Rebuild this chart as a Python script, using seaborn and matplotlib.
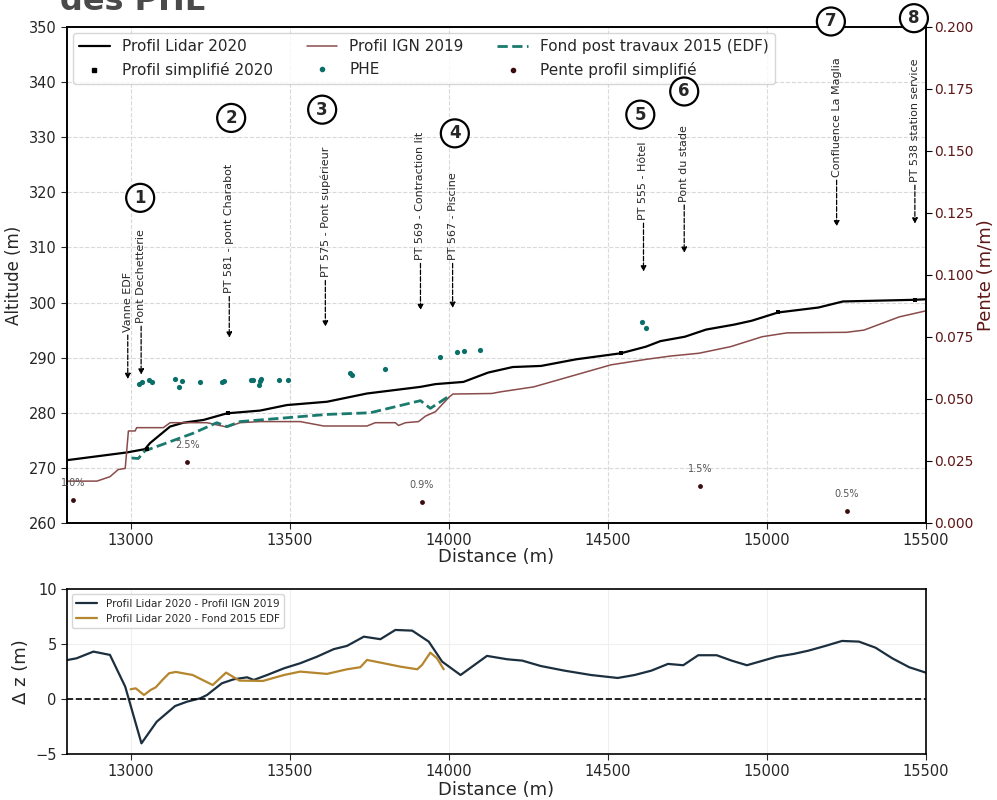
import matplotlib
matplotlib.use('Agg')
import matplotlib.pyplot as plt
from matplotlib.lines import Line2D
import numpy as np
import seaborn as sns

# profil Lidar 2020
lidar_x = [12800, 12988, 13045, 13061, 13124, 13166, 13229, 13303, 13407, 13491, 13617, 13743, 13827, 13911,
           13958, 14046, 14124, 14201, 14290, 14400, 14541, 14620, 14665, 14742, 14809, 14897, 14952, 15035,
           15162, 15239, 15465, 15500]
lidar_z = [271.4, 272.8, 273.4, 274.5, 277.5, 278.2, 278.7, 279.9, 280.4, 281.4, 282.0, 283.5, 284.1, 284.7,
           285.2, 285.6, 287.3, 288.3, 288.5, 289.7, 290.8, 292.0, 293.0, 293.8, 295.1, 296.0, 296.7, 298.2,
           299.1, 300.2, 300.5, 300.6]

# profil simplifie 2020
simp_x = [13050, 13305, 14541, 15035, 15465]
simp_z = [273.4, 279.9, 290.8, 298.2, 300.5]

# profil IGN 2019
ign_x = [12800, 12894, 12935, 12961, 12983, 12993, 13014, 13019, 13103, 13124, 13240, 13303, 13344, 13407,
         13533, 13607, 13743, 13769, 13832, 13842, 13864, 13905, 13927, 13958, 14002, 14013, 14135, 14163,
         14267, 14510, 14621, 14698, 14786, 14886, 14985, 15063, 15250, 15305, 15416, 15500]
ign_z = [267.6, 267.6, 268.4, 269.7, 269.9, 276.7, 276.7, 277.3, 277.3, 278.2, 278.2, 277.4, 278.2, 278.4,
         278.4, 277.6, 277.6, 278.2, 278.2, 277.7, 278.2, 278.4, 279.4, 280.2, 282.9, 283.4, 283.5, 283.8,
         284.7, 288.7, 289.7, 290.3, 290.8, 292.0, 293.8, 294.5, 294.6, 295.0, 297.4, 298.5]

# fond post travaux 2015 (EDF)
edf_x = [13003, 13024, 13045, 13093, 13197, 13271, 13303, 13344, 13512, 13617, 13753, 13911, 13942, 13995]
edf_z = [271.8, 271.7, 273.1, 274.1, 276.3, 278.2, 277.5, 278.4, 279.2, 279.7, 280.0, 282.2, 280.8, 282.8]

# PHE
phe_x = [13027, 13035, 13059, 13067, 13138, 13162, 13152, 13218, 13286, 13292, 13378, 13386, 13407, 13404,
         13411, 13467, 13494, 13688, 13695, 13801, 13971, 14026, 14047, 14097, 14607, 14620]
phe_z = [285.3, 285.5, 286.0, 285.6, 286.1, 285.7, 284.6, 285.5, 285.5, 285.8, 286.0, 286.0, 285.8, 285.0,
         286.1, 286.0, 286.0, 287.2, 286.8, 287.9, 290.2, 291.1, 291.2, 291.4, 296.5, 295.4]

# pente profil simplifie
pente_x = [12818, 13178, 13915, 14790, 15251]
pente_v = [0.0093, 0.0247, 0.0086, 0.0148, 0.0047]
pente_lbl = ['1.0%', '2.5%', '0.9%', '1.5%', '0.5%']

# ouvrages (nom, x, pointe fleche, bas du texte)
ouv_nom = ['Vanne EDF', 'Pont Dechetterie', 'PT 581 - pont Charabot', 'PT 575 - Pont supérieur',
           'PT 569 - Contraction lit', 'PT 567 - Piscine', 'PT 555 - Hôtel', 'Pont du stade',
           'Confluence La Maglia', 'PT 538 station service']
ouv_x = [12991, 13033, 13310, 13612, 13911, 14012, 14612, 14740, 15219, 15465]
ouv_tip = [286.1, 286.9, 293.6, 295.6, 298.6, 299.0, 305.6, 309.0, 313.8, 314.3]
ouv_txt = [294.7, 296.3, 301.7, 304.6, 307.7, 307.7, 315.0, 318.3, 322.8, 321.9]

# numeros
num_lbl = ['1', '2', '3', '4', '5', '6', '7', '8']
num_x = [13030, 13316, 13602, 14019, 14602, 14740, 15201, 15462]
num_z = [319.0, 333.5, 335.0, 330.7, 334.1, 338.3, 351.0, 351.6]

# delta z
dz_ign_x = [12802, 12830, 12883, 12935, 12983, 13034, 13082, 13140, 13177, 13219, 13240, 13287, 13324, 13366,
            13387, 13429, 13482, 13533, 13586, 13638, 13680, 13733, 13785, 13832, 13885, 13937, 13979, 14037,
            14120, 14184, 14231, 14289, 14363, 14447, 14531, 14584, 14637, 14689, 14737, 14784, 14842, 14889,
            14937, 14984, 15031, 15084, 15131, 15184, 15236, 15289, 15341, 15394, 15447, 15500]
dz_ign = [3.56, 3.71, 4.32, 4.02, 1.13, -4.03, -2.06, -0.63, -0.24, 0.07, 0.37, 1.44, 1.80, 1.98,
          1.74, 2.19, 2.80, 3.26, 3.86, 4.54, 4.84, 5.68, 5.45, 6.29, 6.23, 5.23, 3.41, 2.19,
          3.93, 3.62, 3.50, 3.01, 2.59, 2.19, 1.92, 2.19, 2.59, 3.20, 3.08, 3.99, 3.99, 3.50,
          3.08, 3.47, 3.86, 4.11, 4.41, 4.84, 5.29, 5.23, 4.68, 3.71, 2.90, 2.40]
dz_edf_x = [13000, 13016, 13042, 13063, 13079, 13100, 13121, 13142, 13195, 13226, 13258, 13300, 13342, 13416,
            13482, 13533, 13617, 13680, 13722, 13743, 13785, 13848, 13901, 13916, 13942, 13963, 13984]
dz_edf = [0.89, 0.98, 0.37, 0.83, 1.07, 1.74, 2.35, 2.47, 2.19, 1.74, 1.28, 2.41, 1.68, 1.65,
          2.19, 2.50, 2.29, 2.71, 2.90, 3.56, 3.32, 2.95, 2.71, 3.11, 4.23, 3.71, 2.71]

C_IGN = '#8a4b4b'
C_EDF = '#1b7a6e'
C_PHE = '#0b6f69'
C_PENTE = '#3a0c0c'
C_RIGHT = '#5e1717'

sns.set_style('white')
plt.rcParams['font.family'] = ['DejaVu Sans']

fig = plt.figure(figsize=(9.97, 8.0), dpi=100)
ax = fig.add_axes([0.0672, 0.34625, 0.8616, 0.62])
ax2 = ax.twinx()

sns.lineplot(x=lidar_x, y=lidar_z, ax=ax, color='black', lw=1.6, sort=False, estimator=None)
sns.lineplot(x=ign_x, y=ign_z, ax=ax, color=C_IGN, lw=1.1, sort=False, estimator=None)
sns.lineplot(x=edf_x, y=edf_z, ax=ax, color=C_EDF, lw=2, sort=False, estimator=None, linestyle='--')
sns.scatterplot(x=simp_x, y=simp_z, ax=ax, color='black', marker='s', s=12, linewidth=0, zorder=5)
sns.scatterplot(x=phe_x, y=phe_z, ax=ax, color=C_PHE, s=14, linewidth=0, zorder=5)
sns.scatterplot(x=pente_x, y=pente_v, ax=ax2, color=C_PENTE, s=12, linewidth=0)
for xv, yv, lb in zip(pente_x, pente_v, pente_lbl):
    ax2.annotate(lb, (xv, yv), xytext=(0, 10), textcoords='offset points', ha='center',
                 fontsize=7, color='#555555', annotation_clip=False)

ax.set_xlim(12800, 15500)
ax.set_ylim(260, 350)
ax2.set_ylim(0, 0.2)
ax.set_xticks([13000, 13500, 14000, 14500, 15000, 15500])
ax.set_yticks(np.arange(260, 351, 10))
ax2.set_yticks(np.arange(0, 0.201, 0.025))
ax.grid(True, color='#d9d9d9', ls='--', lw=0.8)
ax.tick_params(axis='both', labelsize=10.5, length=4, left=True, bottom=True)
ax2.tick_params(axis='y', labelsize=10, labelcolor=C_RIGHT, color='black', length=4, right=True, pad=2)
ax.set_xlabel('Distance (m)', fontsize=13, labelpad=0)
ax.set_ylabel('Altitude (m)', fontsize=12)
ax2.set_ylabel('Pente (m/m)', fontsize=13, color=C_RIGHT, labelpad=2)
for a in (ax, ax2):
    for s in a.spines.values():
        s.set_color('black')
        s.set_linewidth(1.2)

for nom, xv, tip, ty in zip(ouv_nom, ouv_x, ouv_tip, ouv_txt):
    ax.annotate(nom, xy=(xv, tip), xytext=(xv, ty), rotation=90, ha='center', va='bottom', fontsize=8,
                arrowprops=dict(arrowstyle='-|>', ls='--', lw=0.9, color='black', mutation_scale=8,
                                shrinkA=0, shrinkB=0),
                annotation_clip=False)

for lb, xv, yv in zip(num_lbl, num_x, num_z):
    ax2.text(xv, (yv - 260) / 90 * 0.2, lb, ha='center', va='center', fontsize=12, fontweight='bold',
             bbox=dict(boxstyle='circle,pad=0.3', fc='white', ec='black', lw=1.6), zorder=10, clip_on=False)

handles = [
    Line2D([], [], color='black', lw=1.6),
    Line2D([], [], color='black', marker='s', ms=3, ls='none'),
    Line2D([], [], color=C_IGN, lw=1.1),
    Line2D([], [], color=C_PHE, marker='o', ms=3, ls='none'),
    Line2D([], [], color=C_EDF, lw=2, ls='--'),
    Line2D([], [], color=C_PENTE, marker='o', ms=3, ls='none'),
]
labels = ['Profil Lidar 2020', 'Profil simplifié 2020', 'Profil IGN 2019', 'PHE',
          'Fond post travaux 2015 (EDF)', 'Pente profil simplifié']
ax2.legend(handles, labels, ncol=3, loc='upper left', fontsize=11, frameon=True, borderaxespad=0.4,
           columnspacing=2.2, handletextpad=0.8)

# delta z
bx = fig.add_axes([0.0672, 0.0575, 0.8616, 0.206])
sns.lineplot(x=dz_ign_x, y=dz_ign, ax=bx, color='#1c2f3f', lw=1.6, sort=False, estimator=None,
             label='Profil Lidar 2020 - Profil IGN 2019')
sns.lineplot(x=dz_edf_x, y=dz_edf, ax=bx, color='#b5862e', lw=1.6, sort=False, estimator=None,
             label='Profil Lidar 2020 - Fond 2015 EDF')
bx.axhline(0, color='black', ls='--', lw=1.2)
bx.set_xlim(12800, 15500)
bx.set_ylim(-5, 10)
bx.set_xticks([13000, 13500, 14000, 14500, 15000, 15500])
bx.set_yticks([-5, 0, 5, 10])
bx.grid(True, color='#efefef', lw=0.8)
bx.tick_params(axis='both', labelsize=10.5, length=4, left=True, bottom=True)
bx.set_xlabel('Distance (m)', fontsize=13, labelpad=1)
bx.set_ylabel('Δ z (m)', fontsize=13)
for s in bx.spines.values():
    s.set_color('black')
    s.set_linewidth(1.2)
bx.legend(loc='upper left', fontsize=7.5, frameon=True)

fig.text(0.06, 0.987, 'des PHE', fontsize=23, fontweight='bold', color='#4a4a4a', va='baseline')

fig.savefig('out.png', dpi=100)
